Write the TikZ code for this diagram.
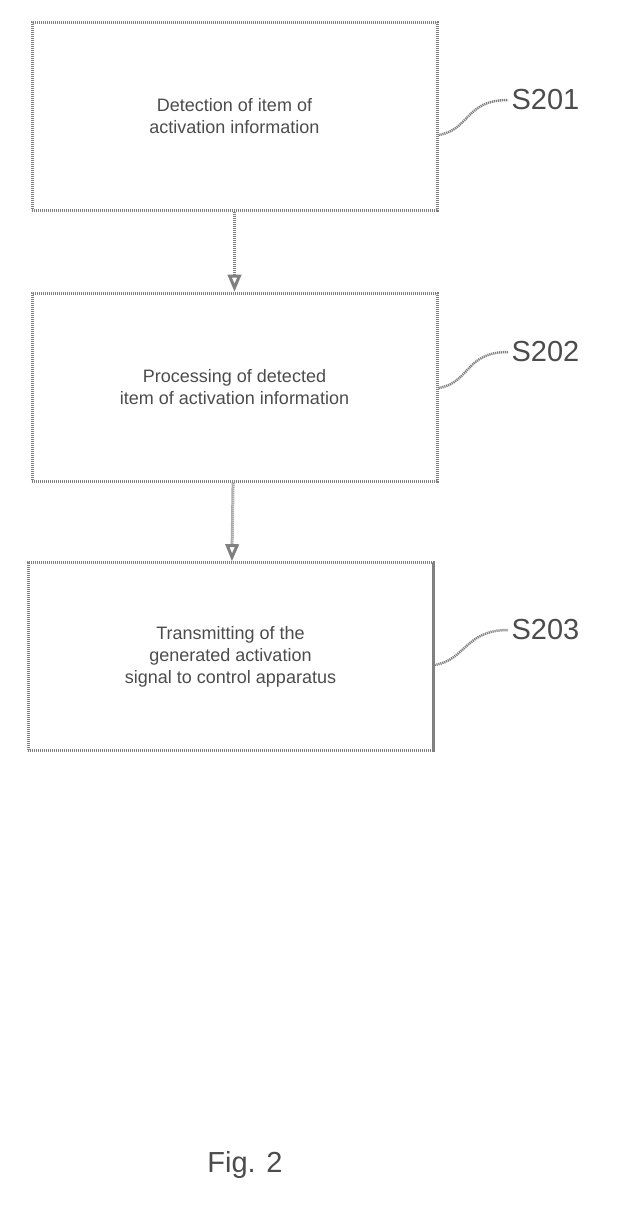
\documentclass[tikz,border=0pt]{standalone}
\usepackage{fontspec}
\setmainfont{Liberation Sans}
\usetikzlibrary{arrows}
\tikzstyle{Step}=[minimum width=405pt, minimum height=188pt, draw=gray, dash pattern=on 1.2pt off 0.8pt, line width=3pt, shape=rectangle, text=gray!60!black, align=center, font=\fontsize{18}{22}\selectfont]
\tikzstyle{Label}=[text=gray!60!black, font=\fontsize{29}{32}\selectfont, anchor=west]
\tikzstyle{arrow}=[draw=gray, dash pattern=on 1.2pt off 0.8pt, line width=3pt, -open triangle 45]
\tikzstyle{squiggle}=[draw=gray, dash pattern=on 1.2pt off 0.8pt, line width=2.5pt]
\begin{document}
\begin{tikzpicture}[x=1pt, y=-1pt]
	\useasboundingbox (0,0) rectangle (628,1210);
	% steps
	\node [style=Step] (s1) at (234.5, 116) {Detection of item of\\activation information};
	\node [style=Step] (s2) at (234.5, 387) {Processing of detected\\item of activation information};
	\node [style=Step] (s3) at (230.5, 656.5) {Transmitting of the\\generated activation\\signal to control apparatus};
	% labels
	\node [style=Label] (l1) at (508, 100) {S201};
	\node [style=Label] (l2) at (508, 352) {S202};
	\node [style=Label] (l3) at (508, 630) {S203};
	\draw [arrow] (s1) to (s2);
	\draw [arrow] (s2) to (s3);
	\draw [squiggle] (s1.east |- 0,135) .. controls (470,130) and (465,100) .. (l1.west);
	\draw [squiggle] (s2.east |- 0,388) .. controls (470,383) and (465,352) .. (l2.west);
	\draw [squiggle] (s3.east |- 0,665) .. controls (466,660) and (465,630) .. (l3.west);
	\node [text=gray!60!black, font=\fontsize{29}{32}\selectfont] (fig) at (245, 1165) {Fig. 2};
\end{tikzpicture}
\end{document}
